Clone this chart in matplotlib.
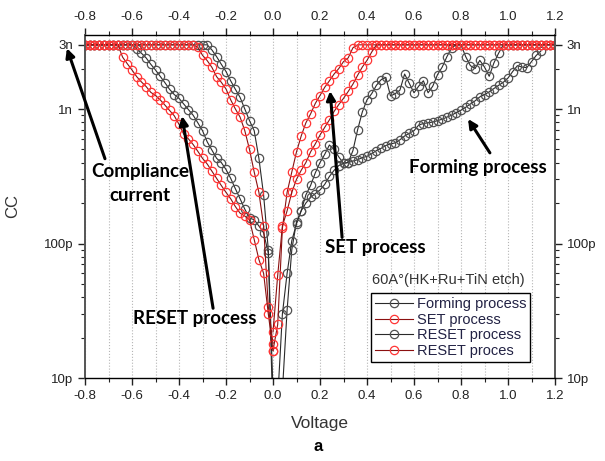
import numpy as np
import matplotlib
matplotlib.use('Agg')
import matplotlib.pyplot as plt
from matplotlib.ticker import FixedLocator, LogLocator, NullFormatter, MultipleLocator

plt.rcParams['font.family'] = ['Liberation Sans', 'DejaVu Sans']

# 扫描电压 (V)，步长 0.02
v_pos = np.round(np.arange(0, 1.201, 0.02), 2)
v_neg = -v_pos[:41]

# 电流 (pA)，3000 pA 为限流值
forming_pos = [2, 4, 8, 32, 90, 145, 175, 200, 220, 235, 250, 275, 315, 350, 380,
               395, 400, 410, 420, 435, 445, 465, 490, 510, 535, 550, 560, 590, 630,
               660, 690, 760, 780, 790, 800, 820, 840, 870, 900, 940, 980, 1030, 1090,
               1150, 1230, 1280, 1340, 1420, 1500, 1580, 1700, 1900, 2100, 2050, 2030,
               2250, 2500, 2700]
set_pos = [16, 25, 130, 240, 340, 480, 630, 790, 920, 1100, 1260, 1450, 1620, 1820,
           2000, 2250, 2400, 2850] + [3000] * 43
set_neg = [18, 34, 135, 240, 340, 500, 690, 870, 1000, 1170, 1410, 1580, 1740, 2040,
           2290, 2510, 2880] + [3000] * 24
reset_pos = [3, 7, 30, 60, 105, 140, 175, 230, 270, 335, 400, 460, 540, 500, 440, 395,
             400, 490, 700, 950, 1170, 1300, 1500, 1650, 1720, 1250, 1300, 1380, 1820,
             1550, 1320, 1480, 1620, 1320, 1480, 1800, 2050, 2450, 2850, 3000, 3000,
             2450, 2100, 2000, 2300, 2050, 1750, 2200, 2600, 3000] + [3000] * 11
reset_neg_fast = [8, 90, 230, 430, 690, 820, 1000, 1220, 1400, 1620, 1900, 2150, 2450,
                  2750] + [3000] * 27
reset_neg_slow = [5, 85, 120, 135, 150, 155, 180, 215, 255, 305, 355, 400, 430, 495,
                  570, 690, 790, 900, 990, 1090, 1200, 1280, 1400, 1570, 1750, 1950,
                  2150, 2400, 2600, 2800] + [3000] * 11
reset2_pos = [22, 58, 135, 175, 240, 300, 350, 400, 480, 550, 640, 730, 830, 960, 1080,
              1200, 1350, 1530, 1780, 2050, 2300, 2650] + [3000] * 39
reset2_neg = [16, 30, 60, 76, 107, 150, 160, 168, 188, 215, 240, 270, 305, 345, 390,
              430, 485, 545, 600, 650, 770, 890, 975, 1070, 1170, 1260, 1330, 1470,
              1590, 1740, 1950, 2170, 2430] + [3000] * 8

y_ticks = [1e-11, 1e-10, 1e-9, 3e-9]
y_tick_labels = ['10p', '100p', '1n', '3n']
x_ticks = [-0.8, -0.6, -0.4, -0.2, 0.0, 0.2, 0.4, 0.6, 0.8, 1.0, 1.2]

black_line, black_mk = '#2a2a2a', '#505050'
red_line, red_mk = '#8b1010', '#ff3535'

fig = plt.figure(figsize=(6.05, 4.61), dpi=100)
ax = fig.add_axes([85 / 605, 83 / 461, 470 / 605, 343 / 461])


def draw(v, cur_pA, line_c, mk_c, label=None):
    cur = np.array(cur_pA, dtype=float) * 1e-12
    ax.plot(v[:len(cur)], cur, '-', color=line_c, lw=0.8, marker='o', ms=6,
            mfc='none', mec=mk_c, mew=0.9, label=label)


# 黑色曲线
draw(v_pos, forming_pos, black_line, black_mk, 'Forming process')
draw(v_pos, reset_pos, black_line, black_mk, 'RESET process')
draw(v_neg, reset_neg_fast, black_line, black_mk)
draw(v_neg, reset_neg_slow, black_line, black_mk)
# 红色曲线
draw(v_pos, set_pos, red_line, red_mk, 'SET process')
draw(v_neg, set_neg, red_line, red_mk)
draw(v_pos, reset2_pos, red_line, red_mk, 'RESET proces')
draw(v_neg, reset2_neg, red_line, red_mk)

ax.set_yscale('log')
ax.set_xlim(-0.8, 1.2)
ax.set_ylim(1e-11, 3.55e-9)
ax.xaxis.set_major_locator(FixedLocator(x_ticks))
ax.xaxis.set_minor_locator(MultipleLocator(0.1))
ax.set_xticklabels([f'{t:.1f}' for t in x_ticks])
ax.yaxis.set_major_locator(FixedLocator(y_ticks))
ax.yaxis.set_minor_locator(LogLocator(subs=np.arange(2, 10)))
ax.yaxis.set_minor_formatter(NullFormatter())
ax.set_yticklabels(y_tick_labels)

ax.tick_params(which='both', direction='out', top=True, right=True,
               labeltop=True, labelright=True, labelsize=9.5, colors='#222222')
ax.tick_params(which='major', length=5, width=1)
ax.tick_params(which='minor', length=3, width=0.8)
ax.grid(axis='x', which='both', ls=':', color='#b5b5b5', lw=0.8)

for side in ['left', 'right']:
    ax.spines[side].set_color('#555555')
    ax.spines[side].set_linewidth(1.4)
for side in ['top', 'bottom']:
    ax.spines[side].set_linewidth(1.0)

ax.set_xlabel('Voltage', fontsize=12.5, color='#333333', labelpad=10)
ax.set_ylabel('CC', fontsize=12, color='#333333')
ax.yaxis.set_label_coords(-0.138, 0.5)
fig.text(0.525, 0.022, 'a', fontsize=12, fontweight='bold', ha='center')

# 图例
handles, labels = ax.get_legend_handles_labels()
order = ['Forming process', 'SET process', 'RESET process', 'RESET proces']
hmap = dict(zip(labels, handles))
leg = ax.legend([hmap[k] for k in order], order, loc='lower right',
                bbox_to_anchor=(0.947, 0.047), fontsize=10.5, numpoints=1,
                handlelength=2.6, handletextpad=0.3, labelspacing=0.12,
                borderpad=0.25, borderaxespad=0, fancybox=False,
                edgecolor='black', framealpha=1)
leg.get_frame().set_linewidth(1.0)
for t in leg.get_texts():
    t.set_color('#222244')
ax.text(0.772, 0.286, '60A°(HK+Ru+TiN etch)', transform=ax.transAxes,
        fontsize=10.5, ha='center', va='center', color='#333333')

# 箭头标注
bold = dict(fontsize=13.5, fontweight='bold', family=['Lato', 'DejaVu Sans'],
            ha='center', va='center')
arrow = dict(arrowstyle='-|>', lw=2.2, color='black', mutation_scale=13,
             shrinkA=0, shrinkB=0)
ax.annotate('', xy=(-0.877, 2.83e-9), xytext=(-0.715, 4.27e-10),
            arrowprops=arrow, annotation_clip=False)
ax.text(-0.566, 2.78e-10, 'Compliance\ncurrent', linespacing=1.5, **bold)
ax.annotate('', xy=(-0.387, 8.87e-10), xytext=(-0.255, 3.3e-11), arrowprops=arrow)
ax.text(-0.332, 2.78e-11, 'RESET process', **bold)
ax.annotate('', xy=(0.243, 1.36e-9), xytext=(0.294, 1.11e-10), arrowprops=arrow)
ax.text(0.434, 9.3e-11, 'SET process', **bold)
ax.annotate('', xy=(0.83, 8.43e-10), xytext=(0.923, 4.72e-10), arrowprops=arrow)
ax.text(0.872, 3.66e-10, 'Forming process', **bold)

fig.savefig('out.png', dpi=100)
